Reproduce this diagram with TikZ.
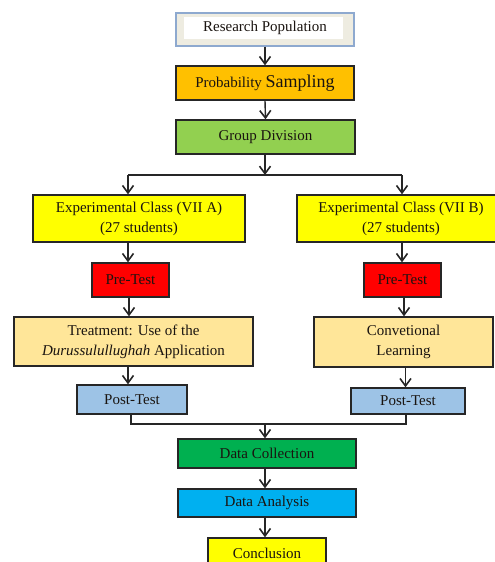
\documentclass[tikz,border=0pt]{standalone}
\usepackage{fontspec}
\setmainfont{Liberation Serif}
\usetikzlibrary{arrows.meta}
\definecolor{rpborder}{HTML}{8EA9CF}
\definecolor{rpfill}{HTML}{EEECE1}
\definecolor{orangeA}{HTML}{FFC000}
\definecolor{greenA}{HTML}{92D050}
\definecolor{yellowA}{HTML}{FFFF00}
\definecolor{redA}{HTML}{FF0000}
\definecolor{tanA}{HTML}{FFE699}
\definecolor{blueA}{HTML}{9DC3E6}
\definecolor{greenB}{HTML}{00B050}
\definecolor{cyanA}{HTML}{00B0F0}
\definecolor{edge}{HTML}{262626}
\definecolor{ink}{HTML}{1A1410}
\tikzset{
  box/.style={draw=edge, line width=1.4pt, inner sep=0pt, align=center,
    font=\fontsize{15}{20}\selectfont, text=ink},
  conn/.style={draw=edge, line width=1.4pt},
  arr/.style={conn, -{Straight Barb[length=7.5pt,width=11pt,line width=1.6pt]}},
}
\begin{document}
\begin{tikzpicture}[x=1pt,y=-1pt]
\clip (0,0) rectangle (495,562);
\useasboundingbox (0,0) rectangle (495,562);
% Research population
\node[box, draw=rpborder, fill=rpfill, minimum width=178pt, minimum height=33pt] (rp) at (265,29.5) {};
\fill[white] (184,17) rectangle (343,39);
\node[font=\fontsize{15}{18}\selectfont, text=ink] (rpt) at (265,28) {Research Population};
\node[box, fill=orangeA, minimum width=178pt, minimum height=34pt] (ps) at (265,83)
  {Probability {\fontsize{18}{20}\selectfont Sampling}};
\node[box, fill=greenA, minimum width=179pt, minimum height=34pt] (gd) at (265.5,137) {Group Division};
% left column
\node[box, fill=yellowA, minimum width=212pt, minimum height=47pt] (ea) at (139,218.5)
  {Experimental Class (VII A)\\(27 students)};
\node[box, fill=redA, minimum width=77pt, minimum height=34pt] (pa) at (130.5,280) {Pre-Test};
\node[box, fill=tanA, minimum width=239pt, minimum height=49pt] (ta) at (133.5,341.5)
  {Treatment: Use of the\\\textit{Durussulullughah} Application};
\node[box, fill=blueA, minimum width=110pt, minimum height=29pt] (qa) at (132,399.5) {Post-Test};
% right column
\node[box, fill=yellowA, minimum width=208pt, minimum height=47pt] (eb) at (401,218.5)
  {Experimental Class (VII B)\\(27 students)};
\node[box, fill=redA, minimum width=77pt, minimum height=34pt] (pb) at (402.5,280) {Pre-Test};
\node[box, fill=tanA, minimum width=179pt, minimum height=50pt] (cb) at (403.5,342)
  {Convetional\\Learning};
\node[box, fill=blueA, minimum width=114pt, minimum height=26pt] (qb) at (408,401) {Post-Test};
% bottom
\node[box, fill=greenB, minimum width=178pt, minimum height=29pt] (dc) at (267,453.5) {Data Collection};
\node[box, fill=cyanA, minimum width=178pt, minimum height=28pt] (da) at (267,503) {Data Analysis};
\node[box, fill=yellowA, minimum width=118pt, minimum height=30pt] (cc) at (267,553) {Conclusion};
% connectors
\draw[arr] (rp.south) -- (ps.north);
\draw[arr] (ps.south) -- (gd.north);
\coordinate (split) at (265,175);
\coordinate (splitL) at (128,175);
\coordinate (splitR) at (402,175);
\draw[arr] (gd.south -| split) -- (split);
\draw[conn] (splitL) -- (splitR);
\draw[arr] (splitL) -- (splitL |- ea.north);
\draw[arr] (splitR) -- (splitR |- eb.north);
\draw[arr] (splitL |- ea.south) -- (splitL |- pa.north);
\coordinate (colA) at (129,0);
\draw[arr] (colA |- pa.south) -- (colA |- ta.north);
\draw[arr] (splitL |- ta.south) -- (splitL |- qa.north);
\draw[arr] (splitR |- eb.south) -- (splitR |- pb.north);
\coordinate (colB) at (404,0);
\draw[arr] (colB |- pb.south) -- (colB |- cb.north);
\coordinate (colC) at (405.5,0);
\draw[arr] (colC |- cb.south) -- (colC |- qb.north);
\coordinate (join) at (265,424);
\coordinate (qaL) at (131,0);
\coordinate (qbL) at (406,0);
\draw[conn] (qaL |- qa.south) -- (qaL |- join) -- (qbL |- join) -- (qbL |- qb.south);
\draw[arr] (join) -- (join |- dc.north);
\draw[arr] (dc.south -| join) -- (join |- da.north);
\draw[arr] (da.south -| join) -- (join |- cc.north);
\end{tikzpicture}
\end{document}
